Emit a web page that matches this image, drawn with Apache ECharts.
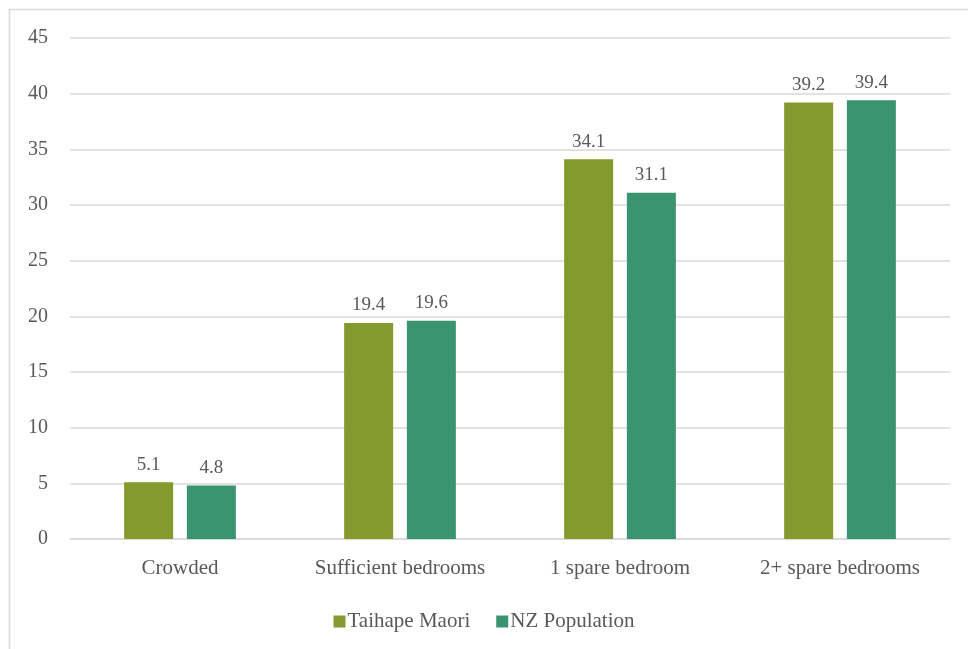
<!DOCTYPE html>
<html>
<head>
<meta charset="utf-8">
<script src="https://cdn.jsdelivr.net/npm/echarts@6/dist/echarts.min.js"></script>
<style>
  html, body { margin: 0; padding: 0; background: #ffffff; }
  #chart { width: 968px; height: 649px; }
</style>
</head>
<body>
<div id="chart"></div>
<script>
// Household crowding: share of people by bedroom sufficiency (%)
const categories = ['Crowded', 'Sufficient bedrooms', '1 spare bedroom', '2+ spare bedrooms'];
const seriesNames = ['Taihape Maori', 'NZ Population'];
const taihapeMaori = [5.1, 19.4, 34.1, 39.2];
const nzPopulation = [4.8, 19.6, 31.1, 39.4];

const textColor = '#595959';
const fontFamily = '"Liberation Serif", "DejaVu Serif", serif';

const chart = echarts.init(document.getElementById('chart'));

const labelStyle = {
  show: true,
  position: 'top',
  distance: 8,
  color: textColor,
  fontFamily: fontFamily,
  fontSize: 19
};

chart.setOption({
  animation: false,
  backgroundColor: '#ffffff',
  graphic: [{
    type: 'rect',
    shape: { x: 9.5, y: 9.5, width: 1000, height: 700 },
    style: { fill: 'none', stroke: '#d9d9d9', lineWidth: 1.5 },
    silent: true
  }],
  grid: { left: 70, right: 18, top: 38, bottom: 110, containLabel: false },
  legend: {
    data: seriesNames,
    bottom: 12,
    left: 'center',
    itemWidth: 12,
    itemHeight: 12,
    itemGap: 26,
    icon: 'rect',
    textStyle: { color: textColor, fontFamily: fontFamily, fontSize: 21, padding: [0, 0, 0, -3] }
  },
  xAxis: {
    type: 'category',
    data: categories,
    axisLine: { show: true, lineStyle: { color: '#d9d9d9', width: 1.5 } },
    axisTick: { show: false },
    axisLabel: { interval: 0, color: textColor, fontFamily: fontFamily, fontSize: 21, margin: 19 }
  },
  yAxis: {
    type: 'value',
    min: 0,
    max: 45,
    interval: 5,
    axisLine: { show: false },
    axisTick: { show: false },
    splitLine: { lineStyle: { color: '#d9d9d9', width: 1.5 } },
    axisLabel: { color: textColor, fontFamily: fontFamily, fontSize: 20, margin: 22 }
  },
  series: [
    {
      name: seriesNames[0],
      type: 'bar',
      data: taihapeMaori,
      barWidth: 49,
      barGap: '28%',
      itemStyle: { color: '#84992e' },
      label: labelStyle
    },
    {
      name: seriesNames[1],
      type: 'bar',
      data: nzPopulation,
      barWidth: 49,
      barGap: '28%',
      itemStyle: { color: '#3a9470' },
      label: labelStyle
    }
  ]
});
</script>
</body>
</html>
